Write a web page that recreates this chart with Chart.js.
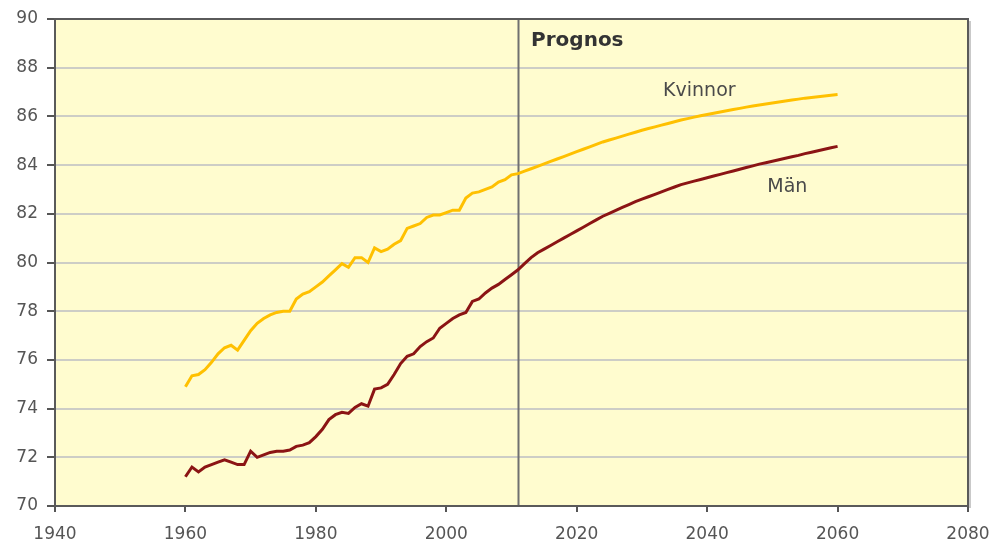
<!DOCTYPE html>
<html>
<head>
<meta charset="utf-8">
<script src="https://cdn.jsdelivr.net/npm/chart.js@4.4.1/dist/chart.umd.min.js"></script>
<style>
    html, body { margin: 0; padding: 0; background: #ffffff; }
    #wrap { width: 996px; height: 546px; }
</style>
</head>
<body>
<div id="wrap"><canvas id="lifeChart" width="996" height="546"></canvas></div>
<script>
// Förväntad livslängd vid födelsen, 1960-2011 utfall, 2012-2060 prognos
const firstYear = 1960;
const prognosYear = 2011;

const kvinnor = [
    74.9, 75.35, 75.4, 75.6, 75.9, 76.25, 76.5, 76.6, 76.4, 76.8,
    77.2, 77.5, 77.7, 77.85, 77.95, 78.0, 78.0, 78.5, 78.7, 78.8,
    79.0, 79.2, 79.45, 79.7, 79.95, 79.8, 80.2, 80.2, 80.0, 80.6,
    80.45, 80.55, 80.75, 80.9, 81.4, 81.5, 81.6, 81.85, 81.95, 81.95,
    82.05, 82.15, 82.15, 82.65, 82.85, 82.9, 83.0, 83.1, 83.3, 83.4,
    83.6, 83.65,
    83.75, 83.85, 83.95, 84.05, 84.15, 84.25, 84.35, 84.45,
    84.55, 84.65, 84.75, 84.85, 84.95, 85.03, 85.11, 85.19, 85.27, 85.35,
    85.43, 85.5, 85.57, 85.64, 85.71, 85.78, 85.85, 85.91, 85.97, 86.03,
    86.08, 86.13, 86.18, 86.23, 86.28, 86.33, 86.38, 86.43, 86.47, 86.51,
    86.55, 86.59, 86.63, 86.67, 86.71, 86.75, 86.78, 86.81, 86.84, 86.87,
    86.9
];

const man = [
    71.2, 71.6, 71.4, 71.6, 71.7, 71.8, 71.9, 71.8, 71.7, 71.7,
    72.25, 72.0, 72.1, 72.2, 72.25, 72.25, 72.3, 72.45, 72.5, 72.6,
    72.85, 73.15, 73.55, 73.75, 73.85, 73.8, 74.05, 74.2, 74.1, 74.8,
    74.85, 75.0, 75.4, 75.85, 76.15, 76.25, 76.55, 76.75, 76.9, 77.3,
    77.5, 77.7, 77.85, 77.95, 78.4, 78.5, 78.75, 78.95, 79.1, 79.3,
    79.5, 79.7,
    79.95, 80.2, 80.4, 80.55, 80.7, 80.85, 81.0, 81.15,
    81.3, 81.45, 81.6, 81.75, 81.9, 82.02, 82.14, 82.26, 82.38, 82.5,
    82.6, 82.7, 82.8, 82.9, 83.0, 83.1, 83.2, 83.27, 83.34, 83.41,
    83.48, 83.55, 83.62, 83.69, 83.76, 83.83, 83.9, 83.97, 84.04, 84.1,
    84.16, 84.22, 84.28, 84.34, 84.4, 84.47, 84.53, 84.59, 84.65, 84.71,
    84.77
];

const xRange = [1940, 2080];
const yRange = [70, 90];

// text labels placed in data coordinates
const labels = [
    { text: 'Prognos', x: 2013, y: 89.1, bold: true, align: 'left' },
    { text: 'Kvinnor', x: 2038.8, y: 87.05, bold: false, align: 'center' },
    { text: 'Män', x: 2052.3, y: 83.1, bold: false, align: 'center' }
];

const toPoints = arr => arr.map((v, i) => ({ x: firstYear + i, y: v }));

const fontFamily = '"DejaVu Sans", Verdana, sans-serif';

const framePlugin = {
    id: 'frame',
    beforeDraw(chart) {
        const { ctx, chartArea: a } = chart;
        ctx.save();
        ctx.fillStyle = '#fffccf';
        ctx.fillRect(a.left, a.top, a.right - a.left, a.bottom - a.top);
        ctx.restore();
    },
    beforeDatasetsDraw(chart) {
        const { ctx, chartArea: a, scales } = chart;
        const x = Math.round(scales.x.getPixelForValue(prognosYear)) + 0.5;
        ctx.save();
        ctx.strokeStyle = '#707070';
        ctx.lineWidth = 2;
        ctx.beginPath();
        ctx.moveTo(x, a.top);
        ctx.lineTo(x, a.bottom);
        ctx.stroke();
        ctx.restore();
    },
    afterDraw(chart) {
        const { ctx, chartArea: a, scales } = chart;
        ctx.save();
        // right-hand shadow
        ctx.strokeStyle = '#c9c9c9';
        ctx.lineWidth = 2;
        ctx.beginPath();
        ctx.moveTo(a.right + 2, a.top + 2);
        ctx.lineTo(a.right + 2, a.bottom + 2);
        ctx.stroke();
        ctx.strokeStyle = '#5a5a5a';
        ctx.lineWidth = 2;
        ctx.strokeRect(a.left, a.top, a.right - a.left, a.bottom - a.top);

        labels.forEach(l => {
            ctx.font = (l.bold ? 'bold 20px ' : '19px ') + fontFamily;
            ctx.fillStyle = l.bold ? '#333333' : '#4a4a4a';
            ctx.textAlign = l.align;
            ctx.textBaseline = 'middle';
            ctx.fillText(l.text, scales.x.getPixelForValue(l.x), scales.y.getPixelForValue(l.y));
        });
        ctx.restore();
    }
};

new Chart(document.getElementById('lifeChart'), {
    type: 'line',
    data: {
        datasets: [
            {
                label: 'Kvinnor',
                data: toPoints(kvinnor),
                borderColor: '#ffc000',
                borderWidth: 3,
                pointRadius: 0,
                tension: 0
            },
            {
                label: 'Män',
                data: toPoints(man),
                borderColor: '#8b1414',
                borderWidth: 3,
                pointRadius: 0,
                tension: 0
            }
        ]
    },
    options: {
        responsive: false,
        animation: false,
        events: [],
        layout: { padding: { left: 0, right: 28, top: 19, bottom: 0 } },
        plugins: {
            legend: { display: false },
            tooltip: { enabled: false }
        },
        scales: {
            x: {
                type: 'linear',
                min: xRange[0],
                max: xRange[1],
                afterFit: scale => {
                    scale.height = 40;
                    scale.paddingLeft = 0;
                    scale.paddingRight = 0;
                },
                ticks: {
                    stepSize: 20,
                    color: '#555555',
                    font: { family: fontFamily, size: 17 },
                    padding: 12,
                    maxRotation: 0,
                    callback: v => String(v)
                },
                grid: {
                    drawOnChartArea: false,
                    drawTicks: true,
                    tickLength: 6,
                    tickColor: '#555555',
                    lineWidth: 2
                },
                border: { color: '#5a5a5a', width: 2 }
            },
            y: {
                min: yRange[0],
                max: yRange[1],
                afterFit: scale => {
                    scale.width = 55;
                    scale.paddingTop = 0;
                    scale.paddingBottom = 0;
                },
                ticks: {
                    stepSize: 2,
                    color: '#555555',
                    font: { family: fontFamily, size: 17 },
                    padding: 9
                },
                grid: {
                    color: '#cdcdc6',
                    lineWidth: 2,
                    tickLength: 8,
                    tickColor: '#555555'
                },
                border: { color: '#5a5a5a', width: 2 }
            }
        }
    },
    plugins: [framePlugin]
});
</script>
</body>
</html>
